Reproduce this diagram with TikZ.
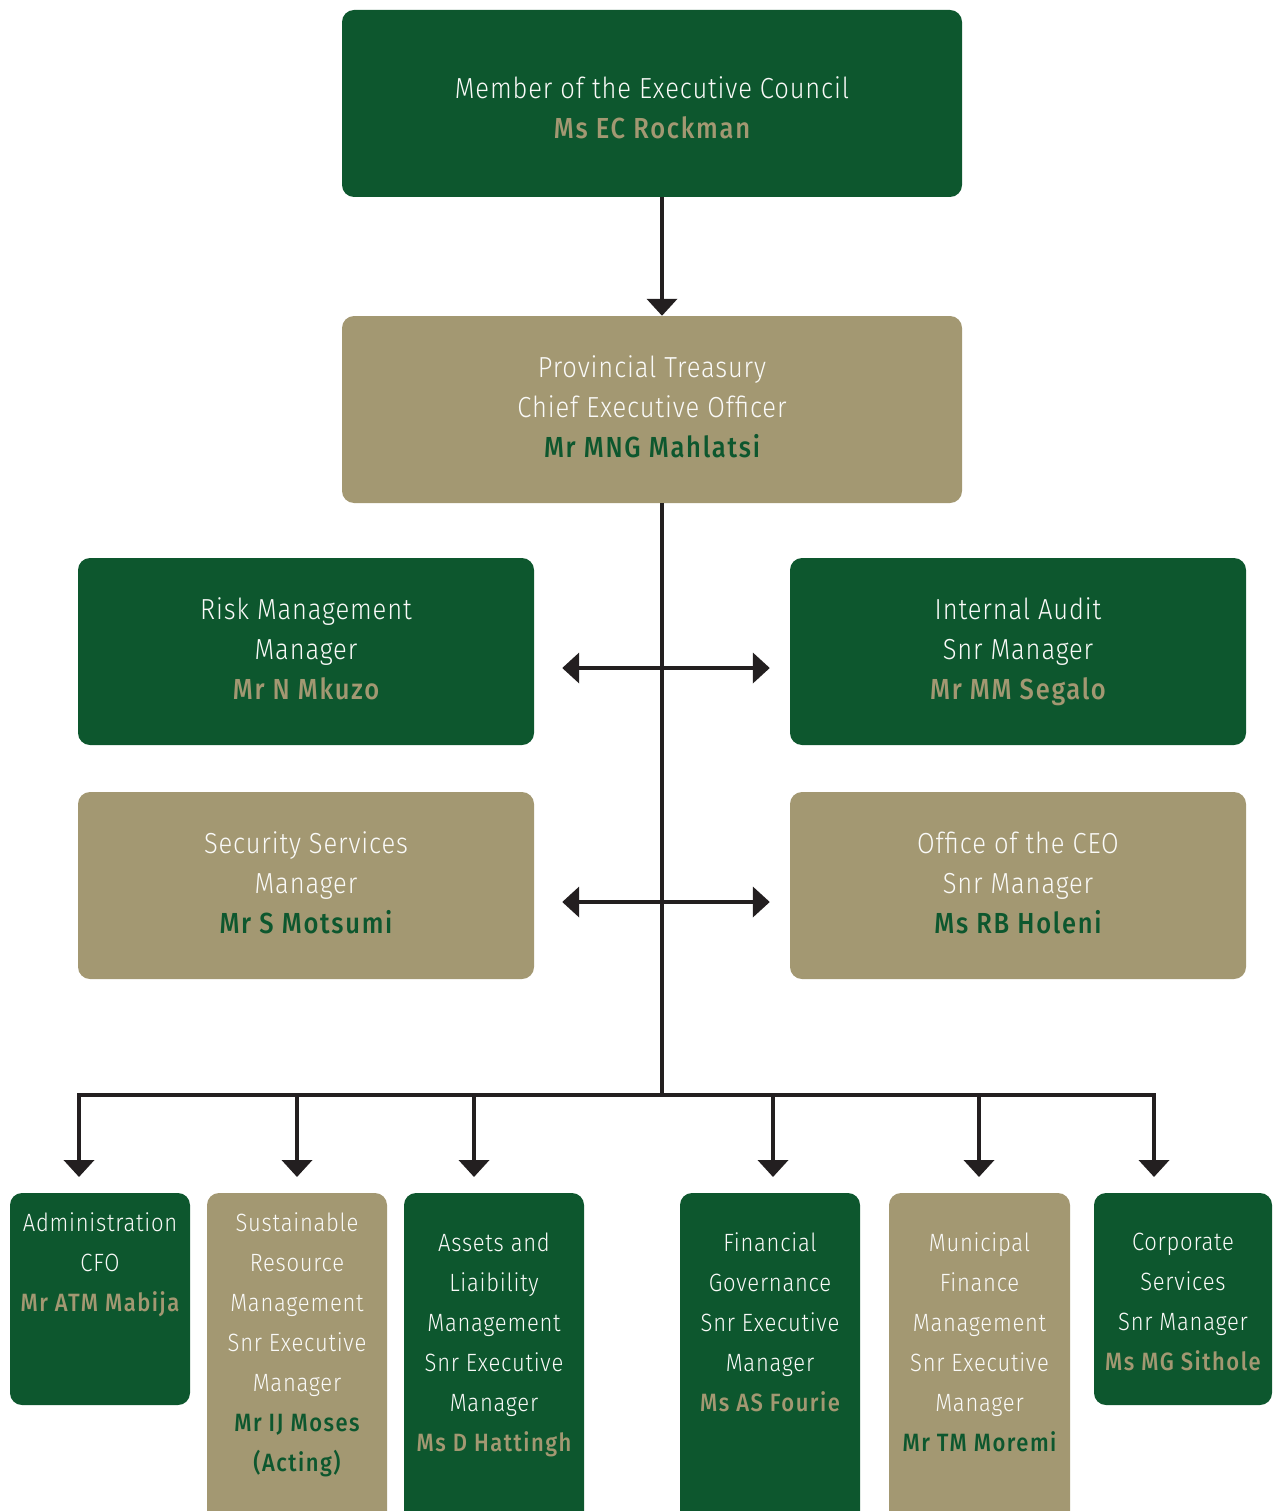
\documentclass[tikz,border=0pt]{standalone}
\usepackage{fontspec}
\setmainfont{Fira Sans Light}[FakeStretch=0.88,LetterSpace=3]
\newfontfamily\namefont{Fira Sans Medium}[FakeStretch=0.88,LetterSpace=6]
\usetikzlibrary{arrows.meta,positioning}
\definecolor{dgreen}{HTML}{0D572E}
\definecolor{khaki}{HTML}{A39872}
\definecolor{ink}{HTML}{231F20}
\colorlet{paper}{white!95!khaki}
\newcommand\tname[1]{{\namefont\color{khaki}#1}}
\newcommand\gname[1]{{\namefont\color{dgreen}#1}}
\newcommand\pad[1]{\rule{0pt}{#1}}
\newcommand\dep{\rule[-12pt]{0pt}{12pt}}

\begin{document}
\begin{tikzpicture}[x=1pt,y=-1pt,
    box/.style={rectangle,rounded corners=12pt,inner sep=0pt,align=center,
      text=paper,font=\fontsize{29}{40}\selectfont},
    gbox/.style={box,fill=dgreen},
    kbox/.style={box,fill=khaki},
    wide/.style={minimum width=620pt,minimum height=187pt},
    half/.style={minimum width=456pt,minimum height=187pt},
    col/.style={minimum width=180pt},
    small/.style={align=center,inner sep=0pt,text=paper,font=\fontsize{25}{40}\selectfont},
    line/.style={draw=ink,line width=4pt},
    arr/.style={line,-{Triangle[width=30pt,length=17pt]}},
    dbl/.style={line,{Triangle[width=30pt,length=17pt]}-{Triangle[width=30pt,length=17pt]}}]
  \useasboundingbox (0,0) rectangle (1273,1511);
  \clip (0,0) rectangle (1273,1511);
  % top of the chart
  \node[gbox,wide] (mec) at (652,103.5) {\pad{42pt}Member of the Executive Council\\\tname{Ms EC Rockman}\dep};
  \node[kbox,wide] (pt) at (652,409.5) {\pad{27pt}Provincial Treasury\\Chief Executive Officer\\\gname{Mr MNG Mahlatsi}\dep};
  % staff units
  \node[gbox,half] (risk) at (306,651.5) {\pad{27pt}Risk Management\\Manager\\\tname{Mr N Mkuzo}\dep};
  \node[gbox,half] (ia) at (1018,651.5) {\pad{27pt}Internal Audit\\Snr Manager\\\tname{Mr MM Segalo}\dep};
  \node[kbox,half] (sec) at (306,885.5) {\pad{27pt}Security Services\\Manager\\\gname{Mr S Motsumi}\dep};
  \node[kbox,half] (ceo) at (1018,885.5) {\pad{27pt}Office of the CEO\\Snr Manager\\\gname{Ms RB Holeni}\dep};
  % branches
  \node[gbox,col,minimum height=212pt] (adm) at (100,1299) {};
  \node[kbox,col,minimum height=337pt] (srm) at (297,1361.5) {};
  \node[gbox,col,minimum height=337pt] (alm) at (494,1361.5) {};
  \node[gbox,col,minimum height=337pt] (fg) at (770,1361.5) {};
  \node[kbox,col,minimum width=181pt,minimum height=337pt] (mfm) at (979.5,1361.5) {};
  \node[gbox,col,minimum width=178pt,minimum height=212pt] (cs) at (1183,1299) {};
  \node[small,below=20pt of adm.north] (admtxt) {Administration\\CFO\\\tname{Mr ATM Mabija}};
  \node[small,below=20pt of srm.north] (srmtxt) {Sustainable\\Resource\\Management\\Snr Executive\\Manager\\\gname{Mr IJ Moses}\\\gname{(Acting)}};
  \node[small,below=40pt of alm.north] (almtxt) {Assets and\\Liaibility\\Management\\Snr Executive\\Manager\\\tname{Ms D Hattingh}};
  \node[small,below=40pt of fg.north] (fgtxt) {Financial\\Governance\\Snr Executive\\Manager\\\tname{Ms AS Fourie}};
  \node[small,below=40pt of mfm.north] (mfmtxt) {Municipal\\Finance\\Management\\Snr Executive\\Manager\\\gname{Mr TM Moremi}};
  \node[small,below=40pt of cs.north] (cstxt) {Corporate\\Services\\Snr Manager\\\tname{Ms MG Sithole}};
  % connectors
  \coordinate (bus) at (662,1095);
  \coordinate (m1) at (662,668);
  \coordinate (m2) at (662,902);
  \coordinate (d1) at (79,1177);
  \coordinate (d2) at (297,1177);
  \coordinate (d3) at (474,1177);
  \coordinate (d4) at (773,1177);
  \coordinate (d5) at (979,1177);
  \coordinate (d6) at (1154,1177);
  \draw[arr] (bus |- mec.south) -- (bus |- pt.north);
  \draw[line] (bus |- pt.south) -- (bus);
  \draw[dbl,shorten <=28pt,shorten >=20pt] (m1 -| risk.east) -- (m1 -| ia.west);
  \draw[dbl,shorten <=28pt,shorten >=20pt] (m2 -| sec.east) -- (m2 -| ceo.west);
  \foreach \d in {d1,d2,d3,d4,d5,d6}
    \draw[arr] (bus) -| (\d);
\end{tikzpicture}
\end{document}
